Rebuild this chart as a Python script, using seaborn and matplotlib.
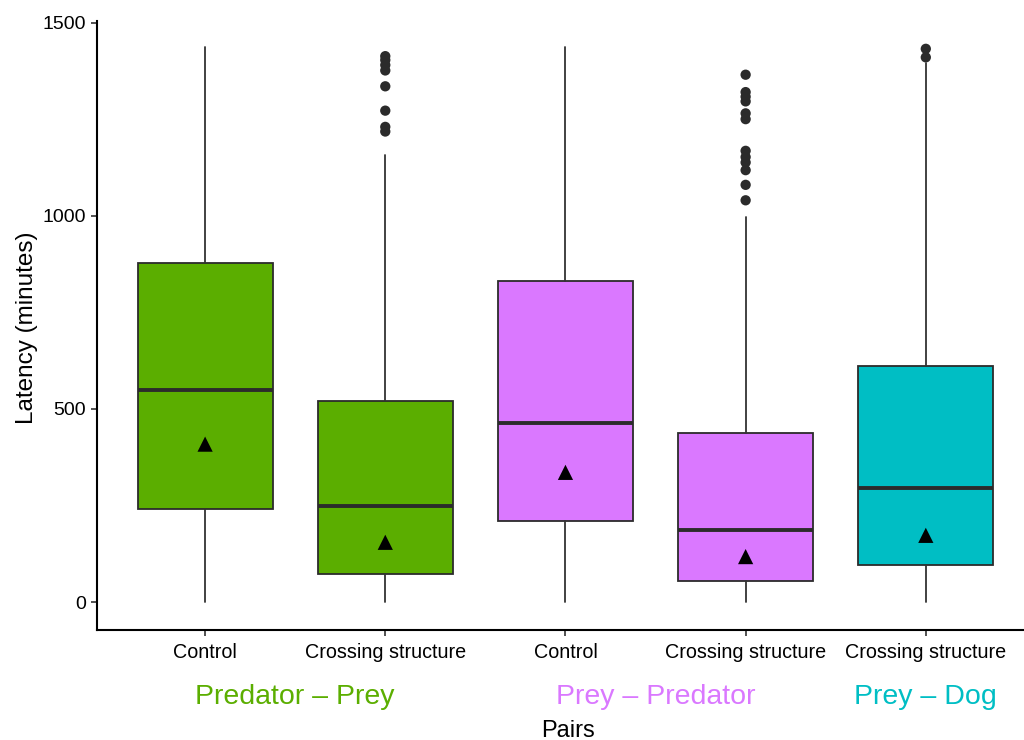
import matplotlib
matplotlib.use("Agg")
import matplotlib.pyplot as plt
import pandas as pd
import seaborn as sns

# Summary statistics per group (minutes)
conditions = ["Control", "Crossing structure", "Control", "Crossing structure", "Crossing structure"]
pairs = ["Predator – Prey", "Predator – Prey", "Prey – Predator", "Prey – Predator", "Prey – Dog"]
whisker_low = [0, 0, 0, 0, 0]
q1 = [242, 72, 209, 54, 95]
medians = [549, 248, 463, 186, 295]
q3 = [878, 520, 831, 437, 611]
whisker_high = [1438, 1158, 1438, 997, 1395]
means = [409, 155, 336, 118, 173]
outliers = [
    [],
    [1413, 1403, 1390, 1376, 1335, 1272, 1230, 1218],
    [],
    [1365, 1320, 1308, 1296, 1265, 1250, 1168, 1152, 1138, 1118, 1080, 1040],
    [1432, 1410],
]
pair_names = ["Predator – Prey", "Prey – Predator", "Prey – Dog"]
pair_colors = ["#5BAE00", "#DA78FF", "#00BEC4"]
y_ticks = [0, 500, 1000, 1500]

sns.set_theme(style="ticks")
plt.rcParams["font.family"] = ["Liberation Sans", "DejaVu Sans"]

color_of = dict(zip(pair_names, pair_colors))
positions = list(range(len(conditions)))

fig = plt.figure(figsize=(10.24, 7.4), dpi=100)
ax = fig.add_axes([97 / 1024, 1 - 630 / 740, 1 - 97 / 1024, (630 - 21) / 740])

stats = [
    dict(whislo=lo, q1=a, med=m, q3=b, whishi=hi, fliers=[], label=c)
    for lo, a, m, b, hi, c in zip(whisker_low, q1, medians, q3, whisker_high, conditions)
]
bp = ax.bxp(
    stats, positions=positions, widths=0.75, patch_artist=True,
    showfliers=False, showcaps=False,
    boxprops=dict(edgecolor="#2b2b2b", linewidth=1.3),
    medianprops=dict(color="#2b2b2b", linewidth=2.8),
    whiskerprops=dict(color="#333333", linewidth=1.3),
)
for patch, p in zip(bp["boxes"], pairs):
    patch.set_facecolor(color_of[p])

# Outlying observations
flier_df = pd.DataFrame(
    [(pos, v) for pos, vals in zip(positions, outliers) for v in vals],
    columns=["pos", "latency"],
)
sns.scatterplot(data=flier_df, x="pos", y="latency", ax=ax, color="#2b2b2b",
                s=55, edgecolor="none", zorder=4)

# Group means
mean_df = pd.DataFrame({"pos": positions, "latency": means})
sns.scatterplot(data=mean_df, x="pos", y="latency", ax=ax, marker="^",
                color="black", s=120, edgecolor="none", zorder=4)

ax.set_xlim(-0.6, 4.545)
ax.set_ylim(-72, 1504)
ax.set_xticks(positions)
ax.set_xticklabels(conditions, fontsize=14.2)
ax.set_yticks(y_ticks)
ax.set_yticklabels([str(t) for t in y_ticks], fontsize=14)
ax.tick_params(axis="both", length=4, width=1.2, color="#333333", labelcolor="black")
ax.tick_params(axis="x", pad=5)
ax.tick_params(axis="y", pad=4)

sns.despine(ax=ax)
for side in ("left", "bottom"):
    ax.spines[side].set_linewidth(1.5)
    ax.spines[side].set_color("black")

# Pair labels under the condition labels
tr = ax.get_xaxis_transform()
for name, col in zip(pair_names, pair_colors):
    xs = [pos for pos, p in zip(positions, pairs) if p == name]
    ax.text(sum(xs) / len(xs), (630 - 697) / 609, name, transform=tr, ha="center",
            va="center", color=col, fontsize=20.5)

ax.set_xlabel("Pairs", fontsize=17, color="black", va="center")
ax.xaxis.set_label_coords((568 - 97) / 927, (630 - 731) / 609)
ax.set_ylabel("Latency (minutes)", fontsize=17.5, color="black", va="center")
ax.yaxis.set_label_coords((27 - 97) / 927, (630 - 328) / 609)

fig.savefig("out.png", dpi=100)
